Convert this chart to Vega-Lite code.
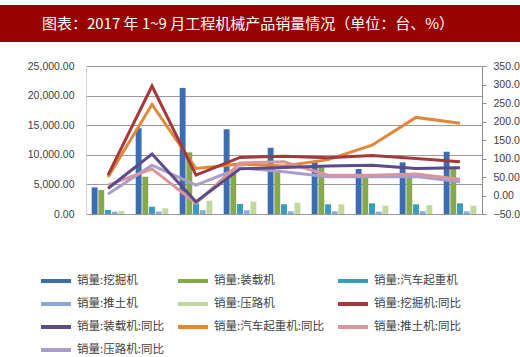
{
  "$schema": "https://vega.github.io/schema/vega-lite/v6.json",
  "padding": {"left": 0, "right": 0, "top": 5, "bottom": 0},
  "background": "white",
  "spacing": 24,
  "center": true,
  "bounds": "flush",
  "config": {"view": {"stroke": null}, "font": "Liberation Sans"},
  "datasets": {
    "bars": [
      {"month": "2017-01", "series": "销量:挖掘机", "value": 4500},
      {"month": "2017-02", "series": "销量:挖掘机", "value": 14500},
      {"month": "2017-03", "series": "销量:挖掘机", "value": 21300},
      {"month": "2017-04", "series": "销量:挖掘机", "value": 14300},
      {"month": "2017-05", "series": "销量:挖掘机", "value": 11200},
      {"month": "2017-06", "series": "销量:挖掘机", "value": 8950},
      {"month": "2017-07", "series": "销量:挖掘机", "value": 7600},
      {"month": "2017-08", "series": "销量:挖掘机", "value": 8730},
      {"month": "2017-09", "series": "销量:挖掘机", "value": 10520},
      {"month": "2017-01", "series": "销量:装载机", "value": 4050},
      {"month": "2017-02", "series": "销量:装载机", "value": 6300},
      {"month": "2017-03", "series": "销量:装载机", "value": 10420},
      {"month": "2017-04", "series": "销量:装载机", "value": 7200},
      {"month": "2017-05", "series": "销量:装载机", "value": 7430},
      {"month": "2017-06", "series": "销量:装载机", "value": 7880},
      {"month": "2017-07", "series": "销量:装载机", "value": 6590},
      {"month": "2017-08", "series": "销量:装载机", "value": 6600},
      {"month": "2017-09", "series": "销量:装载机", "value": 7990},
      {"month": "2017-01", "series": "销量:汽车起重机", "value": 680},
      {"month": "2017-02", "series": "销量:汽车起重机", "value": 1230},
      {"month": "2017-03", "series": "销量:汽车起重机", "value": 1800},
      {"month": "2017-04", "series": "销量:汽车起重机", "value": 1690},
      {"month": "2017-05", "series": "销量:汽车起重机", "value": 1640},
      {"month": "2017-06", "series": "销量:汽车起重机", "value": 1640},
      {"month": "2017-07", "series": "销量:汽车起重机", "value": 1800},
      {"month": "2017-08", "series": "销量:汽车起重机", "value": 1640},
      {"month": "2017-09", "series": "销量:汽车起重机", "value": 1800},
      {"month": "2017-01", "series": "销量:推土机", "value": 400},
      {"month": "2017-02", "series": "销量:推土机", "value": 420},
      {"month": "2017-03", "series": "销量:推土机", "value": 650},
      {"month": "2017-04", "series": "销量:推土机", "value": 620},
      {"month": "2017-05", "series": "销量:推土机", "value": 450},
      {"month": "2017-06", "series": "销量:推土机", "value": 480},
      {"month": "2017-07", "series": "销量:推土机", "value": 400},
      {"month": "2017-08", "series": "销量:推土机", "value": 480},
      {"month": "2017-09", "series": "销量:推土机", "value": 450},
      {"month": "2017-01", "series": "销量:压路机", "value": 510},
      {"month": "2017-02", "series": "销量:压路机", "value": 960},
      {"month": "2017-03", "series": "销量:压路机", "value": 2250},
      {"month": "2017-04", "series": "销量:压路机", "value": 2080},
      {"month": "2017-05", "series": "销量:压路机", "value": 1910},
      {"month": "2017-06", "series": "销量:压路机", "value": 1640},
      {"month": "2017-07", "series": "销量:压路机", "value": 1400},
      {"month": "2017-08", "series": "销量:压路机", "value": 1520},
      {"month": "2017-09", "series": "销量:压路机", "value": 1400}
    ],
    "lines": [
      {"month": "2017-01", "series": "销量:汽车起重机:同比", "value": 50},
      {"month": "2017-02", "series": "销量:汽车起重机:同比", "value": 246},
      {"month": "2017-03", "series": "销量:汽车起重机:同比", "value": 73},
      {"month": "2017-04", "series": "销量:汽车起重机:同比", "value": 85},
      {"month": "2017-05", "series": "销量:汽车起重机:同比", "value": 80},
      {"month": "2017-06", "series": "销量:汽车起重机:同比", "value": 97},
      {"month": "2017-07", "series": "销量:汽车起重机:同比", "value": 136},
      {"month": "2017-08", "series": "销量:汽车起重机:同比", "value": 211},
      {"month": "2017-09", "series": "销量:汽车起重机:同比", "value": 195},
      {"month": "2017-01", "series": "销量:压路机:同比", "value": 4},
      {"month": "2017-02", "series": "销量:压路机:同比", "value": 82},
      {"month": "2017-03", "series": "销量:压路机:同比", "value": 28},
      {"month": "2017-04", "series": "销量:压路机:同比", "value": 75},
      {"month": "2017-05", "series": "销量:压路机:同比", "value": 64},
      {"month": "2017-06", "series": "销量:压路机:同比", "value": 51},
      {"month": "2017-07", "series": "销量:压路机:同比", "value": 51},
      {"month": "2017-08", "series": "销量:压路机:同比", "value": 51},
      {"month": "2017-09", "series": "销量:压路机:同比", "value": 37},
      {"month": "2017-01", "series": "销量:推土机:同比", "value": 28},
      {"month": "2017-02", "series": "销量:推土机:同比", "value": 72},
      {"month": "2017-03", "series": "销量:推土机:同比", "value": -21},
      {"month": "2017-04", "series": "销量:推土机:同比", "value": 88},
      {"month": "2017-05", "series": "销量:推土机:同比", "value": 91},
      {"month": "2017-06", "series": "销量:推土机:同比", "value": 55},
      {"month": "2017-07", "series": "销量:推土机:同比", "value": 55},
      {"month": "2017-08", "series": "销量:推土机:同比", "value": 58},
      {"month": "2017-09", "series": "销量:推土机:同比", "value": 44},
      {"month": "2017-01", "series": "销量:装载机:同比", "value": 19},
      {"month": "2017-02", "series": "销量:装载机:同比", "value": 112},
      {"month": "2017-03", "series": "销量:装载机:同比", "value": -17},
      {"month": "2017-04", "series": "销量:装载机:同比", "value": 72},
      {"month": "2017-05", "series": "销量:装载机:同比", "value": 76},
      {"month": "2017-06", "series": "销量:装载机:同比", "value": 80},
      {"month": "2017-07", "series": "销量:装载机:同比", "value": 82},
      {"month": "2017-08", "series": "销量:装载机:同比", "value": 73},
      {"month": "2017-09", "series": "销量:装载机:同比", "value": 75},
      {"month": "2017-01", "series": "销量:挖掘机:同比", "value": 55},
      {"month": "2017-02", "series": "销量:挖掘机:同比", "value": 296},
      {"month": "2017-03", "series": "销量:挖掘机:同比", "value": 55},
      {"month": "2017-04", "series": "销量:挖掘机:同比", "value": 103},
      {"month": "2017-05", "series": "销量:挖掘机:同比", "value": 106},
      {"month": "2017-06", "series": "销量:挖掘机:同比", "value": 102},
      {"month": "2017-07", "series": "销量:挖掘机:同比", "value": 108},
      {"month": "2017-08", "series": "销量:挖掘机:同比", "value": 100},
      {"month": "2017-09", "series": "销量:挖掘机:同比", "value": 91}
    ]
  },
  "vconcat": [
    {
      "width": 568,
      "height": 37,
      "view": {"fill": "#990000", "stroke": null},
      "data": {"values": [{"t": "图表：2017 年 1~9 月工程机械产品销量情况（单位：台、%）"}]},
      "mark": {"type": "text", "color": "white", "font": "Noto Sans CJK SC", "fontSize": 15, "baseline": "middle", "dx": -36},
      "encoding": {"text": {"field": "t"}}
    },
    {
      "width": 396,
      "height": 148,
      "view": {"stroke": null},
      "layer": [
        {
          "data": {"name": "bars"},
          "mark": {"type": "bar"},
          "encoding": {
            "x": {
              "field": "month", "type": "nominal",
              "scale": {"paddingInner": 0, "paddingOuter": 0},
              "axis": {"title": null, "labelAngle": -45, "tickBand": "extent", "ticks": true, "tickSize": 4, "tickColor": "#8c8c8c", "domainColor": "#8c8c8c", "labelFontSize": 10.5, "labelColor": "#404040", "labelPadding": 2, "grid": false}
            },
            "xOffset": {
              "field": "series",
              "scale": {"domain": ["销量:挖掘机", "销量:装载机", "销量:汽车起重机", "销量:推土机", "销量:压路机"], "paddingInner": 0.12, "paddingOuter": 0.85}
            },
            "y": {
              "field": "value", "type": "quantitative",
              "scale": {"domain": [0, 25000], "nice": false},
              "axis": {"title": null, "values": [0, 5000, 10000, 15000, 20000, 25000], "format": ",.2f", "ticks": false, "labelPadding": 12, "domain": true, "domainColor": "#d0d0d0", "grid": true, "gridColor": "#9a9a9a", "labelFontSize": 10.5, "labelColor": "#404040"}
            },
            "color": {
              "field": "series", "type": "nominal",
              "scale": {
                "domain": ["销量:挖掘机", "销量:装载机", "销量:汽车起重机", "销量:推土机", "销量:压路机", "销量:挖掘机:同比", "销量:装载机:同比", "销量:汽车起重机:同比", "销量:推土机:同比", "销量:压路机:同比"],
                "range": ["#3b6db0", "#86a94b", "#3a9bbd", "#8eaadb", "#c2d89c", "#a4383a", "#5c4a8a", "#e0873a", "#d9959b", "#aa9dcb"]
              }
            }
          }
        },
        {
          "data": {"name": "lines"},
          "mark": {"type": "line", "strokeWidth": 3},
          "encoding": {
            "x": {"field": "month", "type": "nominal", "axis": null},
            "y": {
              "field": "value", "type": "quantitative",
              "scale": {"domain": [-50, 350], "nice": false},
              "axis": {"title": null, "orient": "right", "values": [-50, 0, 50, 100, 150, 200, 250, 300, 350], "format": ".2f", "ticks": true, "tickSize": 4, "tickColor": "#8c8c8c", "domainColor": "#8c8c8c", "labelPadding": 7, "grid": false, "labelFontSize": 10.5, "labelColor": "#404040"}
            },
            "color": {
              "field": "series", "type": "nominal",
              "scale": {
                "domain": ["销量:挖掘机", "销量:装载机", "销量:汽车起重机", "销量:推土机", "销量:压路机", "销量:挖掘机:同比", "销量:装载机:同比", "销量:汽车起重机:同比", "销量:推土机:同比", "销量:压路机:同比"],
                "range": ["#3b6db0", "#86a94b", "#3a9bbd", "#8eaadb", "#c2d89c", "#a4383a", "#5c4a8a", "#e0873a", "#d9959b", "#aa9dcb"]
              },
              "legend": {
                "title": null, "orient": "none", "legendX": 39, "legendY": 268, "direction": "horizontal",
                "values": ["销量:挖掘机", "销量:装载机", "销量:汽车起重机", "销量:推土机", "销量:压路机", "销量:挖掘机:同比", "销量:装载机:同比", "销量:汽车起重机:同比", "销量:推土机:同比", "销量:压路机:同比"],
                "columns": 3, "gridAlign": "each", "columnPadding": 12, "rowPadding": 7,
                "symbolType": "stroke", "symbolSize": 900, "symbolStrokeWidth": 4,
                "labelFont": "Noto Sans CJK SC", "labelFontSize": 11.5, "labelColor": "#404040",
                "labelOffset": 4, "padding": 0, "labelLimit": 200, "clipHeight": 16
              }
            }
          }
        }
      ],
      "resolve": {"scale": {"y": "independent"}}
    }
  ]
}
